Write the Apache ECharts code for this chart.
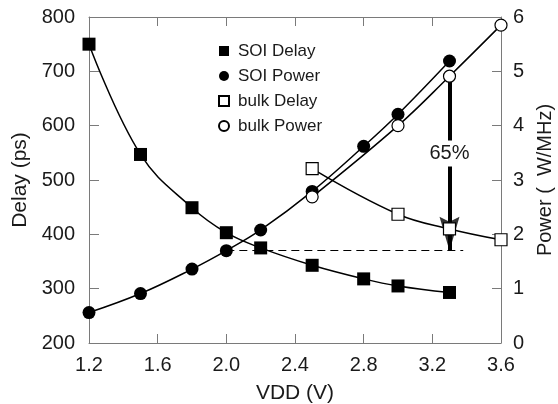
<!DOCTYPE html>
<html>
<head>
<meta charset="utf-8">
<script src="https://cdn.jsdelivr.net/npm/echarts@6/dist/echarts.min.js"></script>
<style>
  html, body { margin: 0; padding: 0; background: #fff; }
  #chart { width: 558px; height: 404px; }
</style>
</head>
<body>
<div id="chart"></div>
<script>
// Supply voltage (V) for each measured point
const soiVdd = [1.2, 1.5, 1.8, 2.0, 2.2, 2.5, 2.8, 3.0, 3.3];
const soiDelay = [750, 547, 449, 403, 375, 343, 318, 305, 293];       // ps
const soiPower = [0.56, 0.91, 1.36, 1.70, 2.08, 2.79, 3.62, 4.21, 5.19]; // W/MHz

const bulkVdd = [2.5, 3.0, 3.3, 3.6];
const bulkDelay = [521, 437, 410, 390];
const bulkPower = [2.69, 4.00, 4.91, 5.85];

const seriesNames = ['SOI Delay', 'SOI Power', 'bulk Delay', 'bulk Power'];

// Axis ranges
const vddRange = { min: 1.2, max: 3.6, step: 0.4 };
const delayRange = { min: 200, max: 800, step: 100 };
const powerRange = { min: 0, max: 6, step: 1 };

// Power comparison: SOI at 2.0 V against bulk at 3.3 V
const soiRefVdd = 2.0;
const bulkRefVdd = 3.3;
const dashEndVdd = 3.38;

const soiRefPower = soiPower[soiVdd.indexOf(soiRefVdd)];
const bulkRefPower = bulkPower[bulkVdd.indexOf(bulkRefVdd)];
const savingLabel = Math.round((1 - soiRefPower / bulkRefPower) * 100) + '%';

const pairs = (xs, ys) => xs.map((x, i) => [x, ys[i]]);

const FONT = '"Liberation Sans", Arial, sans-serif';
const TEXT = '#1a1a1a';
const AXIS = '#7a7a7a';

const chart = echarts.init(document.getElementById('chart'), null, { renderer: 'canvas' });

const axisCommon = {
  axisLine: { show: true, lineStyle: { color: AXIS, width: 1 } },
  splitLine: { show: false },
  nameTextStyle: { fontFamily: FONT, fontSize: 21, color: TEXT }
};

chart.setOption({
  animation: false,
  backgroundColor: '#fff',
  grid: { left: 89, right: 57, top: 17, bottom: 61, containLabel: false, outerBoundsMode: 'none' },
  legend: {
    orient: 'vertical',
    left: 213,
    top: 37,
    itemWidth: 10,
    itemHeight: 10,
    itemGap: 7,
    selectedMode: false,
    textStyle: { fontFamily: FONT, fontSize: 17, color: TEXT, lineHeight: 18, padding: [0, 0, 0, 4] },
    data: [
      { name: seriesNames[0], icon: 'rect' },
      { name: seriesNames[1], icon: 'circle' },
      { name: seriesNames[2], icon: 'rect' },
      { name: seriesNames[3], icon: 'circle' }
    ]
  },
  xAxis: [
    Object.assign({}, axisCommon, {
      type: 'value',
      position: 'bottom',
      min: vddRange.min, max: vddRange.max, interval: vddRange.step,
      axisTick: { show: true, inside: true, length: 9, lineStyle: { color: AXIS } },
      axisLabel: { fontFamily: FONT, fontSize: 20, color: TEXT, margin: 12, formatter: v => v.toFixed(1) },
      name: 'VDD (V)', nameLocation: 'middle', nameGap: 40
    }),
    Object.assign({}, axisCommon, {
      type: 'value',
      position: 'top',
      min: vddRange.min, max: vddRange.max, interval: vddRange.step,
      axisTick: { show: true, inside: true, length: 9, lineStyle: { color: AXIS } },
      axisLabel: { show: false }
    })
  ],
  yAxis: [
    Object.assign({}, axisCommon, {
      type: 'value',
      position: 'left',
      min: delayRange.min, max: delayRange.max, interval: delayRange.step,
      axisTick: { show: true, inside: true, length: 10, lineStyle: { color: AXIS } },
      axisLabel: { fontFamily: FONT, fontSize: 20, color: TEXT, margin: 14 },
      name: 'Delay (ps)', nameLocation: 'middle', nameGap: 56, nameRotate: 90
    }),
    Object.assign({}, axisCommon, {
      type: 'value',
      position: 'right',
      min: powerRange.min, max: powerRange.max, interval: powerRange.step,
      axisTick: { show: true, inside: true, length: 9, lineStyle: { color: AXIS } },
      axisLabel: { fontFamily: FONT, fontSize: 20, color: TEXT, margin: 12 },
      name: 'Power (  W/MHz)', nameLocation: 'middle', nameGap: 34, nameRotate: 90,
      nameTextStyle: { fontFamily: FONT, fontSize: 20, color: TEXT }
    })
  ],
  series: [
    // Reference level and arrow, kept beneath the data markers
    {
      name: 'annotation',
      type: 'line',
      xAxisIndex: 0,
      yAxisIndex: 1,
      data: [],
      silent: true,
      markLine: {
        z: 1,
        silent: true,
        symbol: ['none', 'none'],
        label: { show: false },
        data: [
          [
            { coord: [soiRefVdd, soiRefPower], lineStyle: { color: '#000', width: 1, type: [8, 5] } },
            { coord: [dashEndVdd, soiRefPower] }
          ],
          [
            { coord: [bulkRefVdd, bulkRefPower], lineStyle: { color: '#000', width: 4, type: 'solid' } },
            { coord: [bulkRefVdd, soiRefPower] }
          ]
        ]
      },
      markPoint: {
        silent: true,
        data: [{
          coord: [bulkRefVdd, (bulkRefPower + soiRefPower) / 2],
          symbol: 'rect',
          symbolSize: [44, 26],
          symbolOffset: [0, -10],
          itemStyle: { color: '#fff' },
          label: { show: true, position: 'inside', formatter: savingLabel, fontFamily: FONT, fontSize: 20, color: TEXT }
        }]
      }
    },
    // Arrow head, tip resting on the SOI reference level
    {
      name: 'arrowHead',
      type: 'scatter',
      xAxisIndex: 0,
      yAxisIndex: 1,
      z: 1,
      silent: true,
      data: [[bulkRefVdd, soiRefPower]],
      symbol: 'path://M0,0L10,5L20,0L10,34Z',
      symbolSize: [20, 34],
      symbolOffset: [0, '-50%'],
      itemStyle: { color: '#000' }
    },
    {
      name: seriesNames[0],
      type: 'line',
      yAxisIndex: 0,
      data: pairs(soiVdd, soiDelay),
      smooth: 0.4,
      symbol: 'rect',
      symbolSize: 13,
      itemStyle: { color: '#000' },
      lineStyle: { color: '#000', width: 1.5 }
    },
    {
      name: seriesNames[1],
      type: 'line',
      yAxisIndex: 1,
      data: pairs(soiVdd, soiPower),
      smooth: 0.4,
      symbol: 'circle',
      symbolSize: 13,
      itemStyle: { color: '#000' },
      lineStyle: { color: '#000', width: 1.5 }
    },
    {
      name: seriesNames[2],
      type: 'line',
      yAxisIndex: 0,
      data: pairs(bulkVdd, bulkDelay),
      smooth: 0.4,
      symbol: 'rect',
      symbolSize: 12,
      itemStyle: { color: '#fff', borderColor: '#000', borderWidth: 1.2 },
      lineStyle: { color: '#000', width: 1.5 }
    },
    {
      name: seriesNames[3],
      type: 'line',
      yAxisIndex: 1,
      data: pairs(bulkVdd, bulkPower),
      smooth: 0.4,
      symbol: 'circle',
      symbolSize: 12,
      itemStyle: { color: '#fff', borderColor: '#000', borderWidth: 1.2 },
      lineStyle: { color: '#000', width: 1.5 }
    }
  ]
});
</script>
</body>
</html>
